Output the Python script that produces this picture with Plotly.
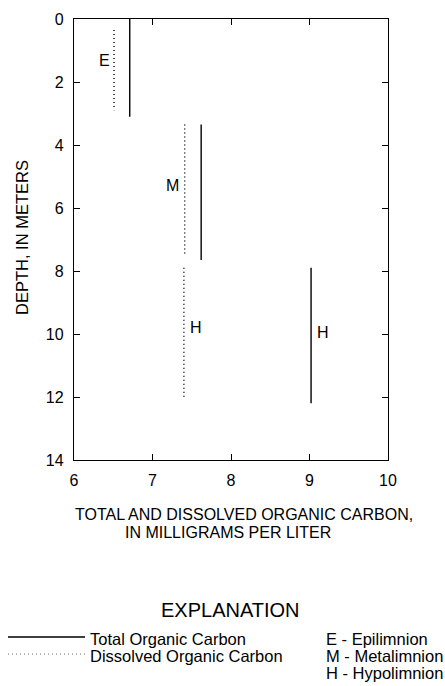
import plotly.graph_objects as go

# Data: organic carbon (mg/L) by layer, depth ranges (m)
layers = ["E", "M", "H"]
toc_values = [6.71, 7.62, 9.02]
toc_top = [0.0, 3.35, 7.9]
toc_bottom = [3.1, 7.65, 12.2]
doc_values = [6.51, 7.41, 7.40]
doc_top = [0.35, 3.35, 7.9]
doc_bottom = [2.9, 7.45, 12.05]
label_pos = [(6.39, 1.33, "E"), (7.25, 5.27, "M"), (7.56, 9.8, "H"), (9.17, 9.94, "H")]
x_ticks = [6, 7, 8, 9, 10]
y_ticks = [0, 2, 4, 6, 8, 10, 12, 14]

FONT = "Liberation Sans, Arial, Helvetica, sans-serif"

fig = go.Figure()
for v, t, b in zip(doc_values, doc_top, doc_bottom):
    fig.add_trace(go.Scatter(x=[v, v], y=[t, b], mode="lines",
                             line=dict(color="black", width=1.4, dash="1px,3px"),
                             showlegend=False, hoverinfo="skip"))
for v, t, b in zip(toc_values, toc_top, toc_bottom):
    fig.add_trace(go.Scatter(x=[v, v], y=[t, b], mode="lines",
                             line=dict(color="black", width=1.4),
                             showlegend=False, hoverinfo="skip"))

for x, y, txt in label_pos:
    fig.add_annotation(x=x, y=y, text=txt, showarrow=False, xref="x", yref="y",
                       xanchor="center", yanchor="middle",
                       font=dict(size=16, color="black", family=FONT))

axis_common = dict(showline=True, linecolor="black", linewidth=1.3, mirror="ticks",
                   ticks="inside", ticklen=6, tickwidth=1.2, tickcolor="black",
                   showgrid=False, zeroline=False,
                   tickfont=dict(size=16, color="black", family=FONT))

fig.update_xaxes(range=[6, 10], tickvals=x_ticks, ticktext=[str(v) for v in x_ticks],
                 ticklabelstandoff=6, **axis_common)
fig.update_yaxes(range=[14, 0], tickvals=y_ticks, ticktext=[str(v) for v in y_ticks],
                 ticklabelstandoff=6, **axis_common)

# pixel -> paper helpers (plot area: x 74..388, y 19..460)
def px(xp):
    return (xp - 74) / 314

def py(yp):
    return 1 - (yp - 19) / 441

def text_at(xp, yp, txt, size, xanchor="center", angle=0):
    fig.add_annotation(x=px(xp), y=py(yp), xref="paper", yref="paper", showarrow=False,
                       xanchor=xanchor, yanchor="middle", text=txt, textangle=angle,
                       font=dict(size=size, color="black", family=FONT))

# Axis titles
text_at(244, 514, "TOTAL AND DISSOLVED ORGANIC CARBON,", 16)
text_at(228, 532, "IN MILLIGRAMS PER LITER", 16)
text_at(22, 238, "DEPTH, IN METERS", 16.5, angle=-90)

# Explanation block
text_at(230, 610, "EXPLANATION", 20)
legend_rows = [("Total Organic Carbon", "solid", 639), ("Dissolved Organic Carbon", "1px,3px", 656)]
for txt, dash, ypix in legend_rows:
    fig.add_shape(type="line", xref="paper", yref="paper", x0=px(8), x1=px(85),
                  y0=py(ypix - 2), y1=py(ypix - 2),
                  line=dict(color="black" if dash == "solid" else "#777777",
                            width=1.3 if dash == "solid" else 1, dash=dash))
    text_at(88, ypix, txt, 16.5, xanchor="left")
zones = [("E - Epilimnion", 639), ("M - Metalimnion", 656), ("H - Hypolimnion", 673)]
for txt, ypix in zones:
    text_at(324, ypix, txt, 16.5, xanchor="left")

fig.update_layout(width=445, height=686, autosize=False,
                  margin=dict(l=74, r=57, t=19, b=226),
                  paper_bgcolor="white", plot_bgcolor="white",
                  font=dict(family=FONT, color="black"), showlegend=False)

fig.write_html("out.html")
